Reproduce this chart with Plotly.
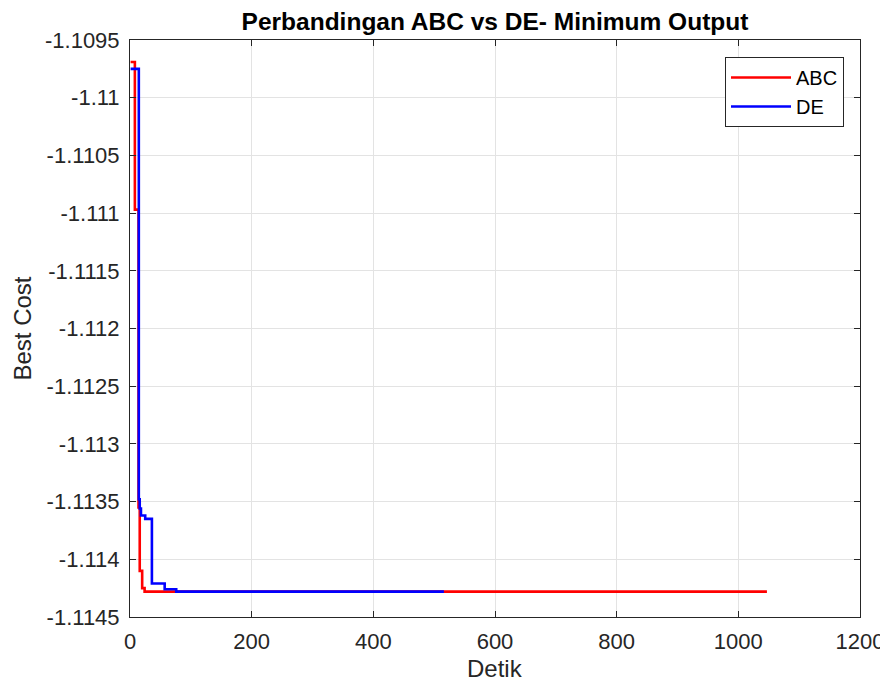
import plotly.graph_objects as go

# ABC convergence (time in seconds vs best cost)
abc_x = [1, 8, 14, 16, 20, 24, 1047]
abc_y = [-1.10969, -1.11097, -1.11355, -1.11410, -1.11425, -1.11428, -1.11428]

# DE convergence
de_x = [1, 14.5, 16, 18, 25, 36, 57, 76, 516]
de_y = [-1.10975, -1.11348, -1.11356, -1.11362, -1.11365, -1.11421, -1.11426, -1.11428, -1.11428]

y_tickvals = [-1.1095, -1.11, -1.1105, -1.111, -1.1115, -1.112, -1.1125,
              -1.113, -1.1135, -1.114, -1.1145]
y_ticktext = ["-1.1095", "-1.11", "-1.1105", "-1.111", "-1.1115", "-1.112", "-1.1125",
              "-1.113", "-1.1135", "-1.114", "-1.1145"]
x_tickvals = [0, 200, 400, 600, 800, 1000, 1200]

FONT = "Liberation Sans, Arial, sans-serif"
DARK = "#262626"
OFF = 8                      # page body margin offset
WIN_W, WIN_H = 888, 686
W, H = WIN_W - OFF, WIN_H - OFF
# plot area in window pixels
PL, PR, PT, PB = 130, 860, 40, 617
L, R, T, B = PL - OFF, WIN_W - PR, PT - OFF, WIN_H - PB
PW, PH = PR - PL, PB - PT

fig = go.Figure()
fig.add_trace(go.Scatter(x=abc_x, y=abc_y, mode="lines", name="ABC",
                         line=dict(color="#ff0000", width=2.6, shape="hv")))
fig.add_trace(go.Scatter(x=de_x, y=de_y, mode="lines", name="DE",
                         line=dict(color="#0000ff", width=2.6, shape="hv")))

axis_common = dict(
    showgrid=True, gridcolor="#e3e3e3", gridwidth=1,
    showline=True, linecolor=DARK, linewidth=1, mirror="ticks",
    ticks="inside", ticklen=6, tickcolor=DARK, tickwidth=1,
    zeroline=False, automargin=False,
    tickfont=dict(family=FONT, size=22, color=DARK),
)

fig.update_layout(
    width=W, height=H,
    margin=dict(l=L, r=R, t=T, b=B, autoexpand=False),
    paper_bgcolor="white", plot_bgcolor="white",
    title=dict(text="<b>Perbandingan ABC vs DE- Minimum Output</b>",
               x=((PL + PR) / 2 - OFF) / W, xanchor="center",
               y=1 - (21 - OFF) / H, yanchor="middle", yref="container",
               font=dict(family=FONT, size=24.5, color="black")),
    xaxis=dict(range=[0, 1200], tickvals=x_tickvals, ticklabelstandoff=5, **axis_common),
    yaxis=dict(range=[-1.1145, -1.1095], tickvals=y_tickvals, ticktext=y_ticktext,
               ticklabelstandoff=5, **axis_common),
    legend=dict(x=(844 - PL) / PW, y=(PB - 57) / PH,
                xanchor="right", yanchor="top",
                bgcolor="white", bordercolor=DARK, borderwidth=1,
                font=dict(family=FONT, size=20, color="black"),
                itemwidth=60, tracegroupgap=0),
    showlegend=True,
    annotations=[
        dict(text="Detik", xref="paper", yref="paper",
             x=0.5, y=-(668 - PB) / PH, xanchor="center", yanchor="middle",
             showarrow=False, font=dict(family=FONT, size=24, color=DARK)),
        dict(text="Best Cost", xref="paper", yref="paper",
             x=-(PL - 22) / PW, y=0.5, xanchor="center", yanchor="middle",
             textangle=-90, showarrow=False, font=dict(family=FONT, size=24, color=DARK)),
    ],
)

fig.write_html("out.html")
